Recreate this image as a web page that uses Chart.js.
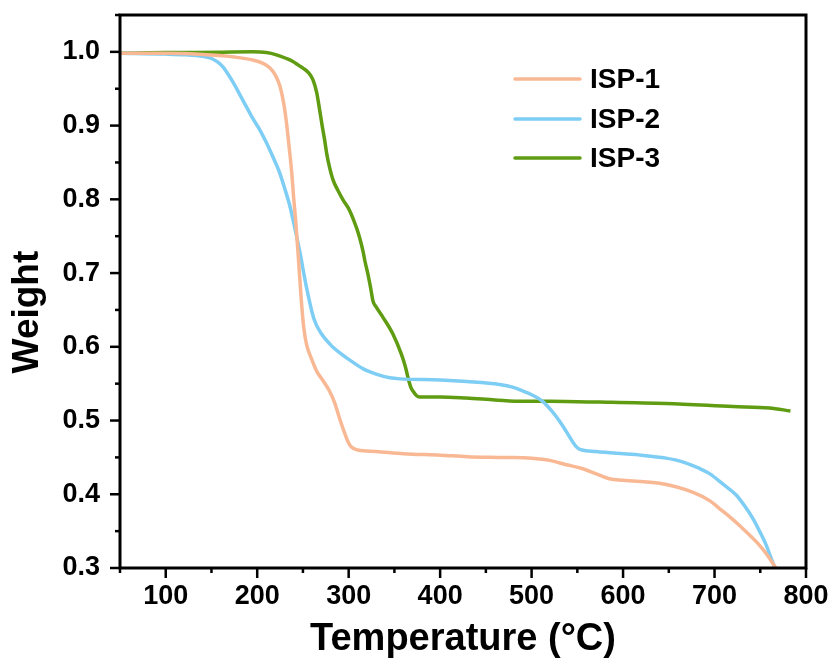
<!DOCTYPE html>
<html>
<head>
<meta charset="utf-8">
<script src="https://cdn.jsdelivr.net/npm/chart.js@4/dist/chart.umd.min.js"></script>
<style>
html,body{margin:0;padding:0;background:#ffffff;}
#wrap{width:835px;height:662px;position:relative;}
</style>
</head>
<body>
<div id="wrap"><canvas id="c" width="835" height="662"></canvas></div>
<script>
// ---- data ----
const seriesNames = ['ISP-1', 'ISP-2', 'ISP-3'];
const seriesColors = ['#F9B894', '#7DCDF4', '#5F9C12'];

const isp1Temp = [50, 100, 145, 175, 195, 207, 214, 220, 225, 229, 232, 235, 237.5, 240, 242, 244.5, 248.3, 251, 254, 259, 265, 272, 279, 285, 290, 295, 299, 303, 310, 330, 360, 400, 430, 470, 500, 520, 538, 555, 570, 585, 600, 640, 676, 695, 706, 717, 727, 738, 749, 758, 767];
const isp1Weight = [0.998, 0.998, 0.996, 0.993, 0.989, 0.984, 0.978, 0.968, 0.953, 0.930, 0.904, 0.870, 0.840, 0.800, 0.772, 0.730, 0.662, 0.625, 0.603, 0.585, 0.567, 0.554, 0.540, 0.523, 0.503, 0.485, 0.472, 0.464, 0.460, 0.458, 0.455, 0.453, 0.451, 0.450, 0.449, 0.446, 0.440, 0.435, 0.428, 0.421, 0.419, 0.415, 0.403, 0.391, 0.380, 0.369, 0.358, 0.345, 0.331, 0.317, 0.300];

const isp2Temp = [50, 100, 122, 140, 150, 157, 163, 168, 174, 181, 188, 195, 203, 210, 217, 224, 230, 235.5, 241, 246.4, 254, 262, 270, 280, 290, 300, 316, 330, 345, 356, 400, 429, 465, 480, 490.5, 500, 512, 522, 530.6, 538, 545, 550, 555, 570, 593, 620, 647, 665, 683.6, 694.5, 710, 723.7, 733, 742, 750, 756.5, 761, 766];
const isp2Weight = [0.998, 0.997, 0.996, 0.994, 0.991, 0.986, 0.979, 0.970, 0.958, 0.942, 0.926, 0.910, 0.894, 0.877, 0.858, 0.838, 0.815, 0.792, 0.762, 0.730, 0.680, 0.638, 0.618, 0.603, 0.592, 0.583, 0.570, 0.563, 0.558, 0.5565, 0.555, 0.553, 0.549, 0.545, 0.540, 0.535, 0.526, 0.513, 0.499, 0.485, 0.471, 0.463, 0.460, 0.458, 0.4555, 0.453, 0.449, 0.444, 0.435, 0.428, 0.413, 0.399, 0.384, 0.367, 0.348, 0.331, 0.316, 0.300];

const isp3Temp = [50, 100, 159, 195, 210, 221, 232, 239, 245, 250, 256, 261, 265, 268.3, 271, 273.8, 276, 279, 283, 288.3, 294, 301, 308.4, 312, 315.6, 318, 321, 324, 326.6, 330, 337.5, 348.5, 357.6, 362, 364.9, 368, 370.3, 374, 377.6, 400, 428.6, 460, 490.5, 520, 574, 647, 720, 760, 783];
const isp3Weight = [0.998, 0.999, 0.9995, 1.000, 0.999, 0.996, 0.991, 0.987, 0.982, 0.978, 0.972, 0.962, 0.945, 0.921, 0.900, 0.880, 0.862, 0.844, 0.826, 0.812, 0.799, 0.785, 0.762, 0.748, 0.730, 0.715, 0.699, 0.680, 0.662, 0.654, 0.640, 0.617, 0.590, 0.573, 0.558, 0.545, 0.540, 0.534, 0.532, 0.532, 0.5305, 0.528, 0.526, 0.526, 0.525, 0.523, 0.519, 0.517, 0.513];

const xTickLabels = ['100', '200', '300', '400', '500', '600', '700', '800'];
const yTickLabels = ['0.3', '0.4', '0.5', '0.6', '0.7', '0.8', '0.9', '1.0'];
const xTitle = 'Temperature (\u00B0C)';
const yTitle = 'Weight';

// ---- build ----
const FONT = "'Liberation Sans', Arial, sans-serif";
function pts(xs, ys) { return xs.map((x, i) => ({ x: x, y: ys[i] })); }
const temps = [isp1Temp, isp2Temp, isp3Temp];
const weights = [isp1Weight, isp2Weight, isp3Weight];

const datasets = seriesNames.map((name, i) => ({
  label: name,
  data: pts(temps[i], weights[i]),
  borderColor: seriesColors[i],
  backgroundColor: seriesColors[i],
  borderWidth: 3.5,
  pointRadius: 0,
  cubicInterpolationMode: 'monotone',
  fill: false
}));

function isLabelled(list, v) {
  const s = (Math.round(v * 1000) / 1000).toString();
  const f = Number(v).toFixed(1);
  return list.includes(s) || (Math.abs(v - parseFloat(f)) < 1e-6 && list.includes(f));
}

const frameAndTicks = {
  id: 'frameAndTicks',
  afterDraw(chart) {
    const ctx = chart.ctx;
    const a = chart.chartArea;
    const xs = chart.scales.x, ys = chart.scales.y;
    ctx.save();
    ctx.strokeStyle = '#000';
    ctx.lineWidth = 2.5;
    ctx.lineCap = 'butt';
    xs.ticks.forEach(t => {
      const px = xs.getPixelForValue(t.value);
      const len = xTickLabels.includes(String(Math.round(t.value))) && Math.abs(t.value % 100) < 1e-6 ? 10 : 5;
      ctx.beginPath(); ctx.moveTo(px, a.bottom); ctx.lineTo(px, a.bottom + len); ctx.stroke();
    });
    ys.ticks.forEach(t => {
      const py = ys.getPixelForValue(t.value);
      const len = isLabelled(yTickLabels, t.value) ? 10 : 5;
      ctx.beginPath(); ctx.moveTo(a.left, py); ctx.lineTo(a.left - len, py); ctx.stroke();
    });
    ctx.lineWidth = 3;
    ctx.strokeRect(a.left, a.top, a.right - a.left, a.bottom - a.top);
    // legend
    const lx0 = 515, lx1 = 580, tx = 590;
    const rows = [79, 119, 158];
    ctx.font = 'bold 28px ' + FONT;
    ctx.textBaseline = 'middle';
    ctx.textAlign = 'left';
    chart.data.datasets.forEach((d, i) => {
      ctx.strokeStyle = d.borderColor;
      ctx.lineWidth = 3.5;
      ctx.lineCap = 'round';
      ctx.beginPath(); ctx.moveTo(lx0, rows[i]); ctx.lineTo(lx1, rows[i]); ctx.stroke();
      ctx.fillStyle = '#000';
      ctx.fillText(d.label, tx, rows[i] + 1);
    });
    ctx.restore();
  }
};

new Chart(document.getElementById('c'), {
  type: 'line',
  data: { datasets: datasets },
  options: {
    responsive: false,
    animation: false,
    layout: { padding: { top: 15, right: 29, left: 0, bottom: 0 } },
    plugins: { legend: { display: false }, tooltip: { enabled: false } },
    scales: {
      x: {
        type: 'linear',
        min: 50, max: 800,
        afterFit(s) { s.height = 94; s.paddingLeft = 0; s.paddingRight = 0; },
        grid: { display: true, drawOnChartArea: false, drawTicks: false },
        border: { display: false },
        ticks: {
          stepSize: 50,
          autoSkip: false,
          maxRotation: 0,
          padding: 12,
          color: '#000',
          font: { family: FONT, size: 27, weight: 'bold' },
          callback: (v) => xTickLabels.includes(String(v)) ? String(v) : ''
        },
        title: {
          display: true,
          text: xTitle,
          color: '#000',
          font: { family: FONT, size: 38, weight: 'bold' },
          padding: { top: 0, bottom: 0 }
        }
      },
      y: {
        type: 'linear',
        min: 0.3, max: 1.05,
        afterFit(s) { s.width = 120; s.paddingTop = 0; s.paddingBottom = 0; },
        grid: { display: true, drawOnChartArea: false, drawTicks: false },
        border: { display: false },
        ticks: {
          stepSize: 0.05,
          autoSkip: false,
          padding: 20,
          color: '#000',
          font: { family: FONT, size: 27, weight: 'bold' },
          callback: (v) => isLabelled(yTickLabels, v) ? Number(v).toFixed(1) : ''
        },
        title: {
          display: true,
          text: yTitle + '    ',
          color: '#000',
          font: { family: FONT, size: 37, weight: 'bold' },
          padding: { top: 6, bottom: 0 }
        }
      }
    }
  },
  plugins: [frameAndTicks]
});
</script>
</body>
</html>
